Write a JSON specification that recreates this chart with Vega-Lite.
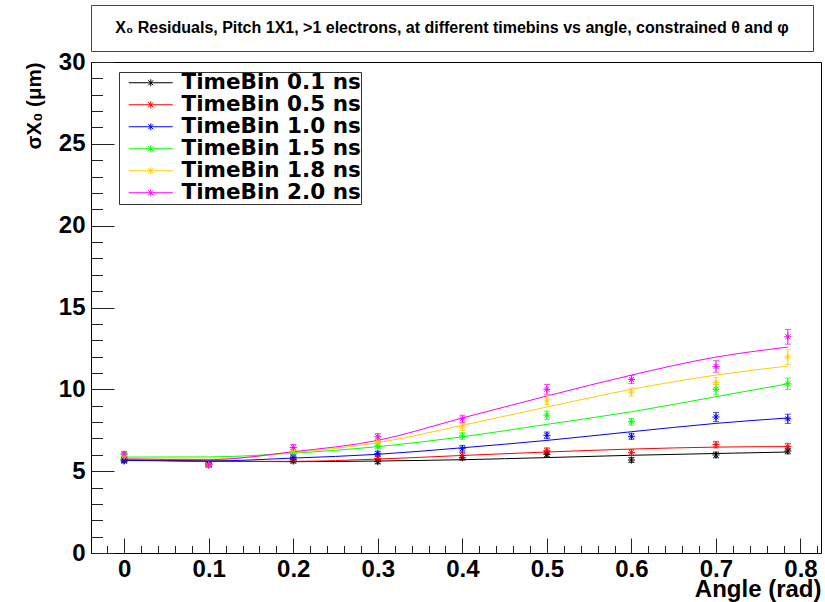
{
  "$schema": "https://vega.github.io/schema/vega-lite/v6.json",
  "padding": {"left": 23, "top": 4, "right": 4, "bottom": 0},
  "background": "white",
  "spacing": 11,
  "bounds": "flush",
  "resolve": {"legend": {"color": "independent"}, "scale": {"color": "independent"}},
  "config": {"font": "Liberation Sans", "view": {"stroke": "#000000"}},
  "datasets": {
    "fits": [
      {"series": "TimeBin 0.1 ns", "angle": 0, "sigma": 5.68},
      {"series": "TimeBin 0.1 ns", "angle": 0.1, "sigma": 5.62},
      {"series": "TimeBin 0.1 ns", "angle": 0.2, "sigma": 5.58},
      {"series": "TimeBin 0.1 ns", "angle": 0.3, "sigma": 5.62},
      {"series": "TimeBin 0.1 ns", "angle": 0.4, "sigma": 5.7},
      {"series": "TimeBin 0.1 ns", "angle": 0.5, "sigma": 5.83},
      {"series": "TimeBin 0.1 ns", "angle": 0.6, "sigma": 5.97},
      {"series": "TimeBin 0.1 ns", "angle": 0.7, "sigma": 6.08},
      {"series": "TimeBin 0.1 ns", "angle": 0.785, "sigma": 6.17},
      {"series": "TimeBin 0.5 ns", "angle": 0, "sigma": 5.72},
      {"series": "TimeBin 0.5 ns", "angle": 0.1, "sigma": 5.6},
      {"series": "TimeBin 0.5 ns", "angle": 0.2, "sigma": 5.6},
      {"series": "TimeBin 0.5 ns", "angle": 0.3, "sigma": 5.74},
      {"series": "TimeBin 0.5 ns", "angle": 0.4, "sigma": 5.96},
      {"series": "TimeBin 0.5 ns", "angle": 0.5, "sigma": 6.17},
      {"series": "TimeBin 0.5 ns", "angle": 0.6, "sigma": 6.35},
      {"series": "TimeBin 0.5 ns", "angle": 0.7, "sigma": 6.47},
      {"series": "TimeBin 0.5 ns", "angle": 0.785, "sigma": 6.5},
      {"series": "TimeBin 1.0 ns", "angle": 0, "sigma": 5.66},
      {"series": "TimeBin 1.0 ns", "angle": 0.1, "sigma": 5.62},
      {"series": "TimeBin 1.0 ns", "angle": 0.2, "sigma": 5.8},
      {"series": "TimeBin 1.0 ns", "angle": 0.3, "sigma": 6.03},
      {"series": "TimeBin 1.0 ns", "angle": 0.4, "sigma": 6.43},
      {"series": "TimeBin 1.0 ns", "angle": 0.5, "sigma": 6.88},
      {"series": "TimeBin 1.0 ns", "angle": 0.6, "sigma": 7.41},
      {"series": "TimeBin 1.0 ns", "angle": 0.7, "sigma": 7.92},
      {"series": "TimeBin 1.0 ns", "angle": 0.785, "sigma": 8.25},
      {"series": "TimeBin 1.5 ns", "angle": 0, "sigma": 5.86},
      {"series": "TimeBin 1.5 ns", "angle": 0.1, "sigma": 5.87},
      {"series": "TimeBin 1.5 ns", "angle": 0.2, "sigma": 6.1},
      {"series": "TimeBin 1.5 ns", "angle": 0.3, "sigma": 6.5},
      {"series": "TimeBin 1.5 ns", "angle": 0.4, "sigma": 7.1},
      {"series": "TimeBin 1.5 ns", "angle": 0.5, "sigma": 7.86},
      {"series": "TimeBin 1.5 ns", "angle": 0.6, "sigma": 8.63},
      {"series": "TimeBin 1.5 ns", "angle": 0.7, "sigma": 9.55},
      {"series": "TimeBin 1.5 ns", "angle": 0.785, "sigma": 10.34},
      {"series": "TimeBin 1.8 ns", "angle": 0, "sigma": 5.76},
      {"series": "TimeBin 1.8 ns", "angle": 0.1, "sigma": 5.74},
      {"series": "TimeBin 1.8 ns", "angle": 0.2, "sigma": 6.13},
      {"series": "TimeBin 1.8 ns", "angle": 0.3, "sigma": 6.74},
      {"series": "TimeBin 1.8 ns", "angle": 0.4, "sigma": 7.8},
      {"series": "TimeBin 1.8 ns", "angle": 0.5, "sigma": 8.92},
      {"series": "TimeBin 1.8 ns", "angle": 0.6, "sigma": 10.0},
      {"series": "TimeBin 1.8 ns", "angle": 0.7, "sigma": 10.87},
      {"series": "TimeBin 1.8 ns", "angle": 0.785, "sigma": 11.42},
      {"series": "TimeBin 2.0 ns", "angle": 0, "sigma": 5.74},
      {"series": "TimeBin 2.0 ns", "angle": 0.1, "sigma": 5.7},
      {"series": "TimeBin 2.0 ns", "angle": 0.2, "sigma": 6.19},
      {"series": "TimeBin 2.0 ns", "angle": 0.3, "sigma": 6.88},
      {"series": "TimeBin 2.0 ns", "angle": 0.4, "sigma": 8.25},
      {"series": "TimeBin 2.0 ns", "angle": 0.5, "sigma": 9.59},
      {"series": "TimeBin 2.0 ns", "angle": 0.6, "sigma": 10.87},
      {"series": "TimeBin 2.0 ns", "angle": 0.7, "sigma": 11.97},
      {"series": "TimeBin 2.0 ns", "angle": 0.785, "sigma": 12.58}
    ],
    "points": [
      {"series": "TimeBin 0.1 ns", "angle": 0, "sigma": 5.68, "err": 0.12},
      {"series": "TimeBin 0.1 ns", "angle": 0.1, "sigma": 5.4, "err": 0.12},
      {"series": "TimeBin 0.1 ns", "angle": 0.2, "sigma": 5.62, "err": 0.12},
      {"series": "TimeBin 0.1 ns", "angle": 0.3, "sigma": 5.58, "err": 0.13},
      {"series": "TimeBin 0.1 ns", "angle": 0.4, "sigma": 5.82, "err": 0.14},
      {"series": "TimeBin 0.1 ns", "angle": 0.5, "sigma": 6.03, "err": 0.15},
      {"series": "TimeBin 0.1 ns", "angle": 0.6, "sigma": 5.68, "err": 0.15},
      {"series": "TimeBin 0.1 ns", "angle": 0.7, "sigma": 5.99, "err": 0.17},
      {"series": "TimeBin 0.1 ns", "angle": 0.785, "sigma": 6.23, "err": 0.17},
      {"series": "TimeBin 0.5 ns", "angle": 0, "sigma": 5.72, "err": 0.12},
      {"series": "TimeBin 0.5 ns", "angle": 0.1, "sigma": 5.4, "err": 0.12},
      {"series": "TimeBin 0.5 ns", "angle": 0.2, "sigma": 5.72, "err": 0.14},
      {"series": "TimeBin 0.5 ns", "angle": 0.3, "sigma": 5.78, "err": 0.14},
      {"series": "TimeBin 0.5 ns", "angle": 0.4, "sigma": 5.97, "err": 0.16},
      {"series": "TimeBin 0.5 ns", "angle": 0.5, "sigma": 6.25, "err": 0.17},
      {"series": "TimeBin 0.5 ns", "angle": 0.6, "sigma": 6.13, "err": 0.18},
      {"series": "TimeBin 0.5 ns", "angle": 0.7, "sigma": 6.62, "err": 0.2},
      {"series": "TimeBin 0.5 ns", "angle": 0.785, "sigma": 6.5, "err": 0.2},
      {"series": "TimeBin 1.0 ns", "angle": 0, "sigma": 5.62, "err": 0.12},
      {"series": "TimeBin 1.0 ns", "angle": 0.1, "sigma": 5.45, "err": 0.12},
      {"series": "TimeBin 1.0 ns", "angle": 0.2, "sigma": 5.86, "err": 0.14},
      {"series": "TimeBin 1.0 ns", "angle": 0.3, "sigma": 6.07, "err": 0.15},
      {"series": "TimeBin 1.0 ns", "angle": 0.4, "sigma": 6.37, "err": 0.2},
      {"series": "TimeBin 1.0 ns", "angle": 0.5, "sigma": 7.19, "err": 0.2},
      {"series": "TimeBin 1.0 ns", "angle": 0.6, "sigma": 7.13, "err": 0.18},
      {"series": "TimeBin 1.0 ns", "angle": 0.7, "sigma": 8.31, "err": 0.28},
      {"series": "TimeBin 1.0 ns", "angle": 0.785, "sigma": 8.2, "err": 0.28},
      {"series": "TimeBin 1.5 ns", "angle": 0, "sigma": 6.0, "err": 0.15},
      {"series": "TimeBin 1.5 ns", "angle": 0.1, "sigma": 5.35, "err": 0.12},
      {"series": "TimeBin 1.5 ns", "angle": 0.2, "sigma": 6.13, "err": 0.15},
      {"series": "TimeBin 1.5 ns", "angle": 0.3, "sigma": 6.54, "err": 0.18},
      {"series": "TimeBin 1.5 ns", "angle": 0.4, "sigma": 7.15, "err": 0.2},
      {"series": "TimeBin 1.5 ns", "angle": 0.5, "sigma": 8.42, "err": 0.25},
      {"series": "TimeBin 1.5 ns", "angle": 0.6, "sigma": 8.02, "err": 0.2},
      {"series": "TimeBin 1.5 ns", "angle": 0.7, "sigma": 10.0, "err": 0.3},
      {"series": "TimeBin 1.5 ns", "angle": 0.785, "sigma": 10.34, "err": 0.35},
      {"series": "TimeBin 1.8 ns", "angle": 0, "sigma": 5.93, "err": 0.15},
      {"series": "TimeBin 1.8 ns", "angle": 0.1, "sigma": 5.38, "err": 0.12},
      {"series": "TimeBin 1.8 ns", "angle": 0.2, "sigma": 6.27, "err": 0.17},
      {"series": "TimeBin 1.8 ns", "angle": 0.3, "sigma": 6.8, "err": 0.2},
      {"series": "TimeBin 1.8 ns", "angle": 0.4, "sigma": 7.7, "err": 0.22},
      {"series": "TimeBin 1.8 ns", "angle": 0.5, "sigma": 9.35, "err": 0.28},
      {"series": "TimeBin 1.8 ns", "angle": 0.6, "sigma": 9.83, "err": 0.25},
      {"series": "TimeBin 1.8 ns", "angle": 0.7, "sigma": 10.4, "err": 0.32},
      {"series": "TimeBin 1.8 ns", "angle": 0.785, "sigma": 11.97, "err": 0.45},
      {"series": "TimeBin 2.0 ns", "angle": 0, "sigma": 6.05, "err": 0.15},
      {"series": "TimeBin 2.0 ns", "angle": 0.1, "sigma": 5.38, "err": 0.12},
      {"series": "TimeBin 2.0 ns", "angle": 0.2, "sigma": 6.45, "err": 0.18},
      {"series": "TimeBin 2.0 ns", "angle": 0.3, "sigma": 7.1, "err": 0.2},
      {"series": "TimeBin 2.0 ns", "angle": 0.4, "sigma": 8.2, "err": 0.22},
      {"series": "TimeBin 2.0 ns", "angle": 0.5, "sigma": 10.0, "err": 0.3},
      {"series": "TimeBin 2.0 ns", "angle": 0.6, "sigma": 10.6, "err": 0.25},
      {"series": "TimeBin 2.0 ns", "angle": 0.7, "sigma": 11.4, "err": 0.35},
      {"series": "TimeBin 2.0 ns", "angle": 0.785, "sigma": 13.21, "err": 0.45}
    ]
  },
  "vconcat": [
    {
      "width": 722,
      "height": 46,
      "view": {"stroke": "#444444", "strokeWidth": 1},
      "data": {"values": [{"caption": "X₀ Residuals, Pitch 1X1, >1 electrons, at different timebins vs angle, constrained θ and φ"}]},
      "mark": {"type": "text", "font": "Liberation Sans", "fontWeight": "bold", "fontSize": 16, "color": "#000000"},
      "encoding": {"text": {"field": "caption", "type": "nominal"}}
    },
    {
      "width": 730,
      "height": 491,
      "encoding": {
        "x": {
          "field": "angle",
          "type": "quantitative",
          "scale": {"domain": [-0.03925, 0.82425], "nice": false, "zero": false},
          "axis": {
            "title": "Angle (rad)",
            "values": [-0.02, 0, 0.02, 0.04, 0.06, 0.08, 0.1, 0.12, 0.14, 0.16, 0.18, 0.2, 0.22, 0.24, 0.26, 0.28, 0.3, 0.32, 0.34, 0.36, 0.38, 0.4, 0.42, 0.44, 0.46, 0.48, 0.5, 0.52, 0.54, 0.56, 0.58, 0.6, 0.62, 0.64, 0.66, 0.68, 0.7, 0.72, 0.74, 0.76, 0.78, 0.8, 0.82],
            "labelExpr": "abs(datum.value*10 - round(datum.value*10)) < 0.000001 ? (abs(datum.value) < 0.000001 ? '0' : format(datum.value, '.1f')) : ''",
            "tickSize": {"condition": {"test": "abs(datum.value*10 - round(datum.value*10)) < 0.000001", "value": -15}, "value": -7.5},
            "labelPadding": 19,
            "labelFontSize": 24,
            "labelFontWeight": "bold",
            "labelColor": "#000000",
            "labelFlush": false,
            "labelOverlap": false,
            "tickColor": "#222222",
            "domainColor": "#000000",
            "grid": false,
            "titleFontSize": 24,
            "titleFontWeight": "bold",
            "titleColor": "#000000",
            "titleAnchor": "end",
            "titlePadding": -11
          }
        },
        "y": {
          "field": "sigma",
          "type": "quantitative",
          "scale": {"domain": [0, 30], "nice": false},
          "axis": {
            "title": "σX₀ (μm)",
            "values": [0, 1, 2, 3, 4, 5, 6, 7, 8, 9, 10, 11, 12, 13, 14, 15, 16, 17, 18, 19, 20, 21, 22, 23, 24, 25, 26, 27, 28, 29, 30],
            "labelExpr": "datum.value % 5 === 0 ? datum.label : ''",
            "tickSize": {"condition": {"test": "datum.value % 5 === 0", "value": -23}, "value": -11.5},
            "labelPadding": 29,
            "labelFontSize": 24,
            "labelFontWeight": "bold",
            "labelColor": "#000000",
            "labelFlush": false,
            "labelOverlap": false,
            "tickColor": "#222222",
            "domainColor": "#000000",
            "grid": false,
            "titleFontSize": 20.5,
            "titleFontWeight": "bold",
            "titleColor": "#000000",
            "titleAnchor": "end",
            "titleAlign": "right",
            "titleY": 0,
            "titlePadding": 14
          }
        }
      },
      "layer": [
        {
          "data": {"name": "fits"},
          "mark": {"type": "line", "strokeWidth": 1, "interpolate": "monotone"},
          "encoding": {
            "color": {
              "field": "series",
              "type": "nominal",
              "scale": {
                "domain": ["TimeBin 0.1 ns", "TimeBin 0.5 ns", "TimeBin 1.0 ns", "TimeBin 1.5 ns", "TimeBin 1.8 ns", "TimeBin 2.0 ns"],
                "range": ["#000000", "#ff0000", "#0000ff", "#00ff00", "#ffcc00", "#ff00ff"]
              },
              "legend": {
                "title": null,
                "orient": "none",
                "legendX": 28,
                "legendY": 10,
                "direction": "vertical",
                "strokeColor": "#333333",
                "fillColor": "white",
                "padding": 0,
                "labelFont": "DejaVu Sans",
                "labelFontWeight": "bold",
                "labelFontSize": 21.5,
                "labelColor": "#000000",
                "labelLimit": 400,
                "symbolType": "M-2.2,0H2.2M0,-0.35V0.35M-0.25,-0.25L0.25,0.25M-0.25,0.25L0.25,-0.25",
                "symbolSize": 400,
                "symbolStrokeWidth": 1,
                "symbolFillColor": "transparent",
                "symbolOffset": 21,
                "labelOffset": 20,
                "rowPadding": -1.6
              }
            }
          }
        },
        {
          "data": {"name": "points"},
          "mark": {"type": "errorbar", "ticks": {"size": 6}, "thickness": 1},
          "encoding": {
            "yError": {"field": "err"},
            "color": {"field": "series", "type": "nominal", "legend": null}
          }
        },
        {
          "data": {"name": "points"},
          "mark": {"type": "point", "shape": "M-1,0H1M0,-1V1M-0.7,-0.7L0.7,0.7M-0.7,0.7L0.7,-0.7", "size": 50, "strokeWidth": 1, "filled": false, "opacity": 1},
          "encoding": {
            "color": {"field": "series", "type": "nominal", "legend": null}
          }
        }
      ]
    }
  ]
}
